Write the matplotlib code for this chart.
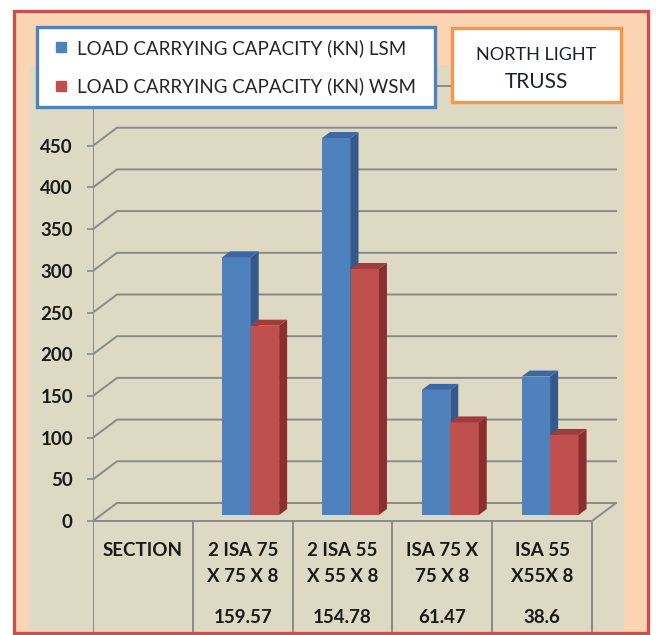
import numpy as np
import matplotlib
matplotlib.use("Agg")
import matplotlib.pyplot as plt
from matplotlib.patches import Polygon, Rectangle
from matplotlib.lines import Line2D

plt.rcParams['font.family'] = ['Lato', 'DejaVu Sans']

# donnees
columns = ["SECTION", "2 ISA 75\nX 75 X 8", "2 ISA 55\nX 55 X 8", "ISA 75 X\n75 X 8", "ISA 55\nX55X 8"]
weights = ["", "159.57", "154.78", "61.47", "38.6"]
lsm = [309, 452, 150, 166]
wsm = [227, 295, 111, 96]
series_names = ["LOAD CARRYING CAPACITY (KN) LSM", "LOAD CARRYING CAPACITY (KN) WSM"]
title_lines = ["NORTH LIGHT", "TRUSS"]
yticks = np.arange(0, 451, 50)
grid_levels = np.arange(0, 501, 50)

W, H = 656, 635
fig = plt.figure(figsize=(W / 100, H / 100), dpi=100)
fig.patch.set_facecolor('white')


def fbox(x0, y0, x1, y1):
    # boite en pixels (haut-gauche) -> coordonnees figure
    return (x0 / W, 1 - y1 / H), (x1 - x0) / W, (y1 - y0) / H


# cadre exterieur + zone de trace
xy, w, h = fbox(14, 11, 648, 633)
fig.add_artist(Rectangle(xy, w, h, transform=fig.transFigure, fc='#FBD4B4', ec='#C9504D', lw=2.4, zorder=0))
xy, w, h = fbox(29, 65, 624, 631)
fig.add_artist(Rectangle(xy, w, h, transform=fig.transFigure, fc='#DDD9C3', ec='none', zorder=0))

# axes principal: 1 unite x = 99.8 px, 1 unite y = 0.834 px
xy, w, h = fbox(93, 80, 625, 632)
ax = fig.add_axes([xy[0], xy[1], w, h])
ax.set_facecolor('none')
ax.set_xlim(-0.5, -0.5 + 532 / 99.8)
ax.set_ylim(-111 / 0.834, 441 / 0.834)
for s in ax.spines.values():
    s.set_visible(False)
ax.set_xticks([])
ax.set_yticks(yticks)
ax.set_yticklabels([str(v) for v in yticks], fontsize=13.5, fontweight='bold', color='#1a1a1a')
ax.tick_params(axis='y', length=4.5, width=1.2, color='#8A8A8A', pad=10)

DX, DY = 24 / 99.8, 18 / 0.834
gcol = '#8A8A8A'
n = len(columns)
ybot = ax.get_ylim()[0]

# mur du fond
for v in grid_levels:
    ax.plot([-0.5, -0.5 + DX, n - 0.5 + DX], [v, v + DY, v + DY], color=gcol, lw=1.4, zorder=1)
ax.plot([-0.5, n - 0.5, n - 0.5 + DX], [0, 0, DY], color=gcol, lw=1.4, zorder=1)
ax.plot([-0.5, -0.5], [ybot, grid_levels[-1]], color=gcol, lw=1.4, zorder=1)
for i in range(1, n + 1):
    ax.plot([i - 0.5, i - 0.5], [ybot, 0], color=gcol, lw=1.4, zorder=1)

# barres 3D
bw = 0.285
ox, oy = DX / 3, DY / 3
bdx, bdy = DX / 3, DY / 3
blue = ('#4F81BD', '#34598B', '#3D68A3')
red = ('#C0504D', '#8A2F2D', '#A03D3A')


def bar3d(x0, x1, v, cols):
    x0, x1 = x0 + ox, x1 + ox
    ax.add_patch(Rectangle((x0, oy), x1 - x0, v, fc=cols[0], ec='none', zorder=3))
    ax.add_patch(Polygon([(x1, oy), (x1 + bdx, oy + bdy), (x1 + bdx, oy + bdy + v), (x1, oy + v)],
                         closed=True, fc=cols[1], ec='none', zorder=3))
    ax.add_patch(Polygon([(x0, oy + v), (x0 + bdx, oy + v + bdy), (x1 + bdx, oy + v + bdy), (x1, oy + v)],
                         closed=True, fc=cols[2], ec='none', zorder=3))


for i, (b, r) in enumerate(zip(lsm, wsm)):
    c = i + 1
    bar3d(c - bw, c, b, blue)
    bar3d(c, c + bw, r, red)

# tableau sous l'axe (lignes a 550, 577 et 618 px)
row_y = [-34.8, -67.1]
for i, (lab, wt) in enumerate(zip(columns, weights)):
    for j, line in enumerate(lab.split('\n')):
        ax.text(i, row_y[j], line, ha='center', va='center', fontsize=13.5, fontweight='bold',
                color='#1a1a1a')
    ax.text(i, -116.3, wt, ha='center', va='center', fontsize=13.5, fontweight='bold', color='#1a1a1a')

# legende
handles = [Line2D([], [], ls='none', marker='s', ms=7, color=blue[0]),
           Line2D([], [], ls='none', marker='s', ms=7, color=red[0])]
leg = fig.legend(handles, series_names, loc='upper left',
                 bbox_to_anchor=(37 / W, 1 - 116 / H, 398 / W, 89 / H), mode='expand',
                 borderaxespad=0, fontsize=13.5, frameon=True, fancybox=False, framealpha=1,
                 edgecolor='#4F81BD', facecolor='white', borderpad=0.63, labelspacing=1.1,
                 handlelength=1.3, handletextpad=0.2)
leg.get_frame().set_linewidth(2.4)
for t in leg.get_texts():
    t.set_color('#262626')

# titre dans une boite
xy, w, h = fbox(452, 28, 621, 102)
fig.add_artist(Rectangle(xy, w, h, transform=fig.transFigure, fc='white', ec='#F79646', lw=2.4, zorder=5))
fig.text(536 / W, 1 - 55 / H, title_lines[0], ha='center', va='center', fontsize=13, color='#1f1f33', zorder=6)
fig.text(536 / W, 1 - 82 / H, title_lines[1], ha='center', va='center', fontsize=15, color='#1f1f33', zorder=6)

fig.savefig('out.png', dpi=100)
